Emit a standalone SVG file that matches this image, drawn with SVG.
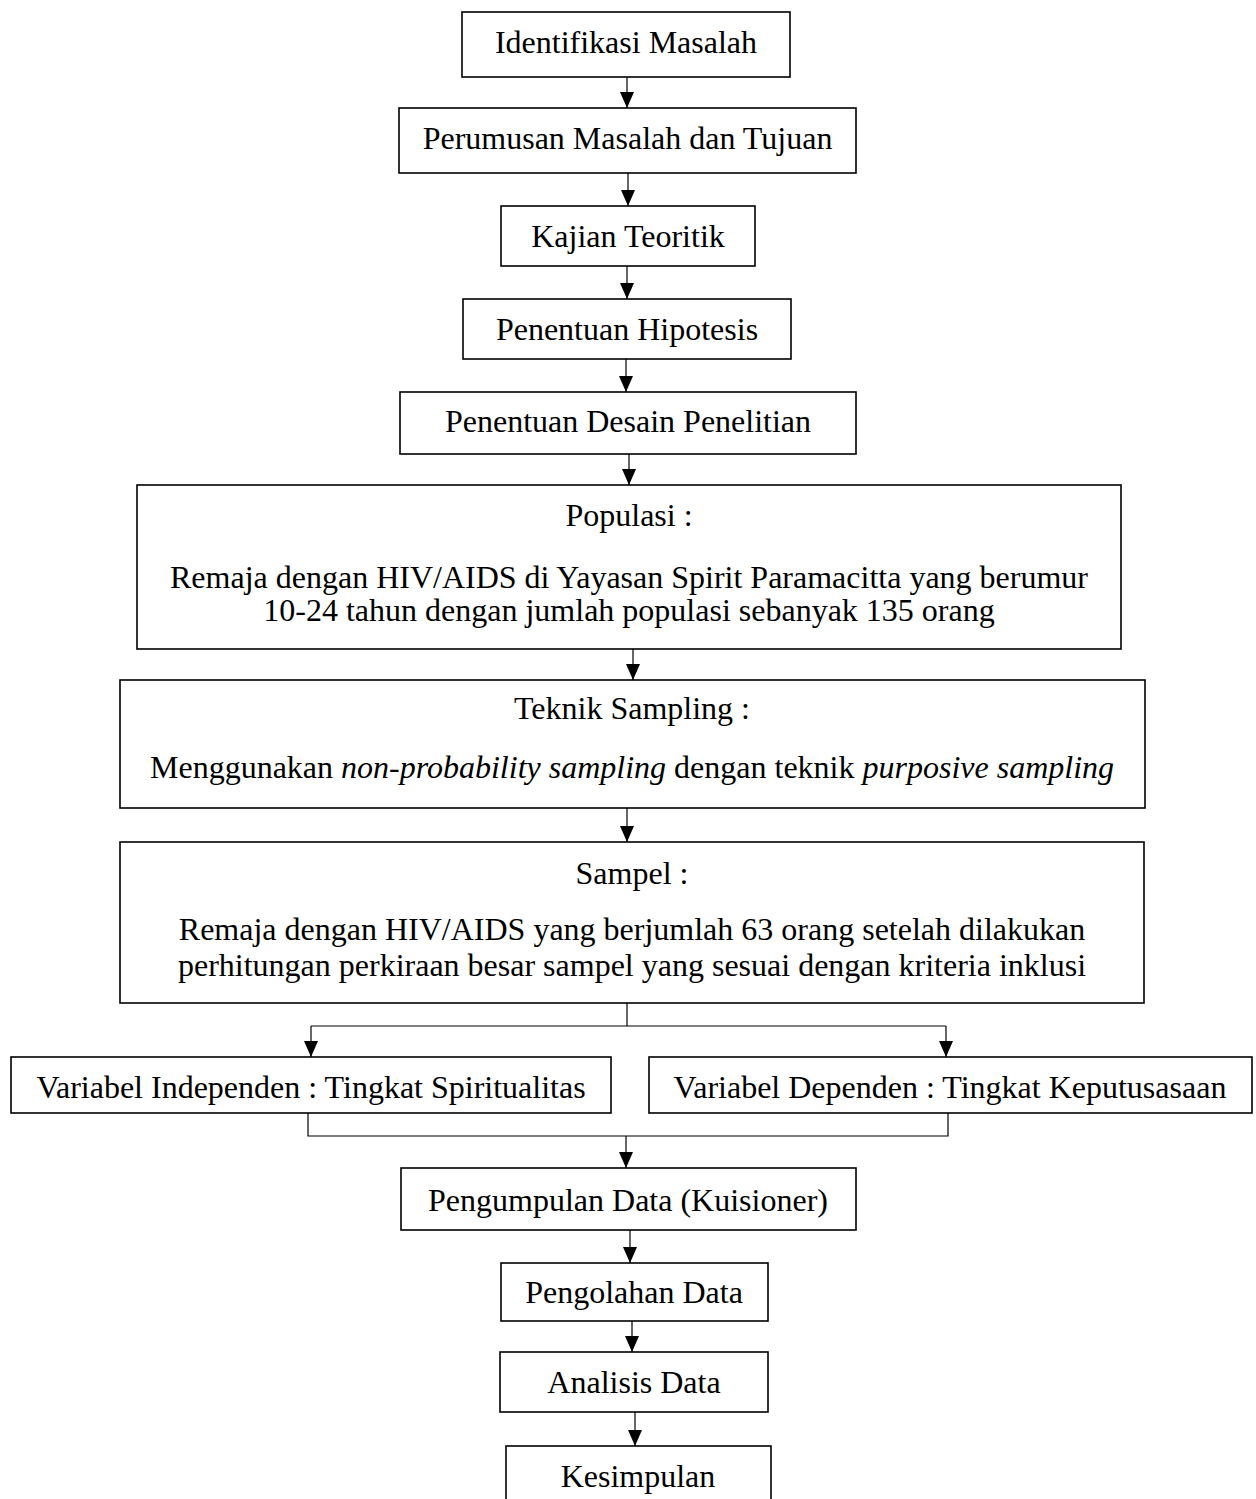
<svg xmlns="http://www.w3.org/2000/svg" width="1256" height="1499" viewBox="0 0 1256 1499">
<defs>
<style>
.box{fill:#fff;stroke:#000;stroke-width:1.6}
.t{font-family:"Liberation Serif","Times New Roman",serif;font-size:32px;fill:#000;text-anchor:middle}
.i{font-style:italic}
.c{fill:none;stroke:#000;stroke-width:1.2}
</style>
<marker id="ah" markerUnits="userSpaceOnUse" markerWidth="16" markerHeight="16" refX="16" refY="7" orient="auto" viewBox="0 0 16 14">
<path d="M0,0 L16,7 L0,14 Z" fill="#000"/>
</marker>
</defs>
<rect width="1256" height="1499" fill="#fff"/>
<g id="connectors">
<path class="c" d="M627,77 V108" marker-end="url(#ah)"/>
<path class="c" d="M628,173 V206" marker-end="url(#ah)"/>
<path class="c" d="M627,266 V299" marker-end="url(#ah)"/>
<path class="c" d="M626,359 V392" marker-end="url(#ah)"/>
<path class="c" d="M629,454 V485" marker-end="url(#ah)"/>
<path class="c" d="M633,649 V680" marker-end="url(#ah)"/>
<path class="c" d="M627,808 V842" marker-end="url(#ah)"/>
<path class="c" d="M627,1003 V1026"/>
<path class="c" d="M311,1026 H946"/>
<path class="c" d="M311,1026 V1057" marker-end="url(#ah)"/>
<path class="c" d="M946,1026 V1057" marker-end="url(#ah)"/>
<path class="c" d="M308,1113 V1136 H948 V1113"/>
<path class="c" d="M626,1136 V1168" marker-end="url(#ah)"/>
<path class="c" d="M630,1230 V1263" marker-end="url(#ah)"/>
<path class="c" d="M632,1321 V1352" marker-end="url(#ah)"/>
<path class="c" d="M635,1412 V1446" marker-end="url(#ah)"/>
</g>
<g id="n1"><rect class="box" x="462" y="12" width="328" height="65"/><text class="t" x="626" y="53">Identifikasi Masalah</text></g>
<g id="n2"><rect class="box" x="399" y="108" width="457" height="65"/><text class="t" x="627.5" y="149">Perumusan Masalah dan Tujuan</text></g>
<g id="n3"><rect class="box" x="501" y="206" width="254" height="60"/><text class="t" x="628" y="247">Kajian Teoritik</text></g>
<g id="n4"><rect class="box" x="463" y="299" width="328" height="60"/><text class="t" x="627" y="340">Penentuan Hipotesis</text></g>
<g id="n5"><rect class="box" x="400" y="392" width="456" height="62"/><text class="t" x="628" y="432">Penentuan Desain Penelitian</text></g>
<g id="n6"><rect class="box" x="137" y="485" width="984" height="164"/>
<text class="t" x="629" y="526">Populasi :</text>
<text class="t" x="629" y="588">Remaja dengan HIV/AIDS di Yayasan Spirit Paramacitta yang berumur</text>
<text class="t" x="629" y="621">10-24 tahun dengan jumlah populasi sebanyak 135 orang</text></g>
<g id="n7"><rect class="box" x="120" y="680" width="1025" height="128"/>
<text class="t" x="632" y="719">Teknik Sampling :</text>
<text class="t" x="632" y="778">Menggunakan <tspan class="i">non-probability sampling</tspan> dengan teknik <tspan class="i">purposive sampling</tspan></text></g>
<g id="n8"><rect class="box" x="120" y="842" width="1024" height="161"/>
<text class="t" x="632" y="884">Sampel :</text>
<text class="t" x="632" y="940">Remaja dengan HIV/AIDS yang berjumlah 63 orang setelah dilakukan</text>
<text class="t" x="632" y="976">perhitungan perkiraan besar sampel yang sesuai dengan kriteria inklusi</text></g>
<g id="n9"><rect class="box" x="11" y="1057" width="600" height="56"/><text class="t" x="311" y="1098">Variabel Independen : Tingkat Spiritualitas</text></g>
<g id="n10"><rect class="box" x="649" y="1057" width="603" height="56"/><text class="t" x="950" y="1098">Variabel Dependen : Tingkat Keputusasaan</text></g>
<g id="n11"><rect class="box" x="401" y="1168" width="455" height="62"/><text class="t" x="628" y="1211">Pengumpulan Data (Kuisioner)</text></g>
<g id="n12"><rect class="box" x="501" y="1263" width="267" height="58"/><text class="t" x="634" y="1303">Pengolahan Data</text></g>
<g id="n13"><rect class="box" x="500" y="1352" width="268" height="60"/><text class="t" x="634" y="1393">Analisis Data</text></g>
<g id="n14"><rect class="box" x="506" y="1446" width="265" height="70"/><text class="t" x="638" y="1487">Kesimpulan</text></g>
</svg>
